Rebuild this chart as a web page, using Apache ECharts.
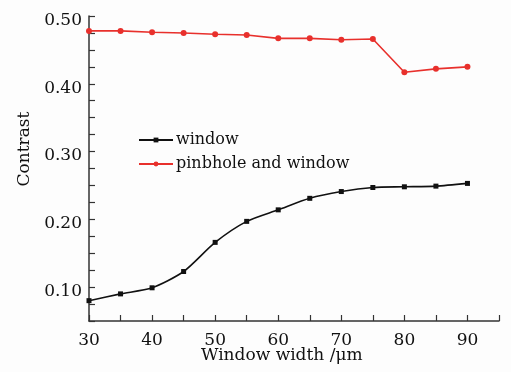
<!DOCTYPE html>
<html>
<head>
<meta charset="utf-8">
<script src="https://cdn.jsdelivr.net/npm/echarts@6/dist/echarts.min.js"></script>
<style>
  html, body { margin: 0; padding: 0; background: #fdfdfd; }
  #chart { width: 511px; height: 372px; }
</style>
</head>
<body>
<div id="chart"></div>
<script>
// Window width (µm)
const widths = [30, 35, 40, 45, 50, 55, 60, 65, 70, 75, 80, 85, 90];
// Contrast with window only
const windowOnly = [0.080, 0.090, 0.099, 0.123, 0.166, 0.197, 0.214, 0.231, 0.241, 0.247, 0.248, 0.249, 0.253];
// Contrast with pinhole and window
const pinholeWindow = [0.478, 0.478, 0.476, 0.475, 0.473, 0.472, 0.467, 0.467, 0.465, 0.466, 0.417, 0.422, 0.425];
const seriesNames = ['window', 'pinbhole and window'];

const FONT = 'DejaVu Serif';
const chart = echarts.init(document.getElementById('chart'));

function pairs(ys) { return widths.map((x, i) => [x, ys[i]]); }

chart.setOption({
  backgroundColor: '#fdfdfd',
  animation: false,
  grid: { left: 89, right: 12, top: 16, bottom: 51 },
  legend: {
    orient: 'vertical',
    left: 133,
    top: 127,
    itemWidth: 34,
    itemHeight: 6,
    itemGap: 8,
    textStyle: { fontFamily: FONT, fontSize: 16, color: '#111', padding: [0, 0, 0, -2] },
    data: seriesNames
  },
  xAxis: {
    type: 'value',
    min: 30, max: 95, interval: 5,
    axisLine: { lineStyle: { color: '#333', width: 1.5 } },
    axisTick: { inside: true, length: 6, lineStyle: { color: '#333', width: 1.2 } },
    axisLabel: {
      fontFamily: FONT, fontSize: 17, color: '#111', margin: 11,
      formatter: v => (v % 10 === 0 ? String(v) : '')
    },
    splitLine: { show: false }
  },
  yAxis: {
    type: 'value',
    min: 0.05, max: 0.50, interval: 0.025,
    axisLine: { show: true, lineStyle: { color: '#333', width: 1.5 } },
    axisTick: { show: true, inside: true, length: 6, lineStyle: { color: '#333', width: 1.2 } },
    axisLabel: {
      fontFamily: FONT, fontSize: 17, color: '#111', margin: 7,
      verticalAlign: 'top', lineHeight: 9,
      formatter: v => {
        const t = v * 10;
        return Math.abs(t - Math.round(t)) < 1e-6 && v > 0.06 ? v.toFixed(2) : '';
      }
    },
    splitLine: { show: false }
  },
  graphic: [
    {
      type: 'text', left: 201, top: 347,
      style: { text: 'Window width /μm', fontFamily: FONT, fontSize: 17, fill: '#111' }
    },
    {
      type: 'text', x: 25, y: 149, rotation: Math.PI / 2,
      style: { text: 'Contrast', fontFamily: FONT, fontSize: 17, fill: '#111', align: 'center', verticalAlign: 'middle' }
    }
  ],
  series: [
    {
      name: seriesNames[0], type: 'line', data: pairs(windowOnly),
      smooth: 0.25,
      symbol: 'rect', symbolSize: 5,
      itemStyle: { color: '#111' },
      lineStyle: { color: '#111', width: 1.6 }
    },
    {
      name: seriesNames[1], type: 'line', data: pairs(pinholeWindow),
      symbol: 'circle', symbolSize: 6,
      itemStyle: { color: '#e8302c' },
      lineStyle: { color: '#e8302c', width: 1.6 }
    }
  ]
});
</script>
</body>
</html>
